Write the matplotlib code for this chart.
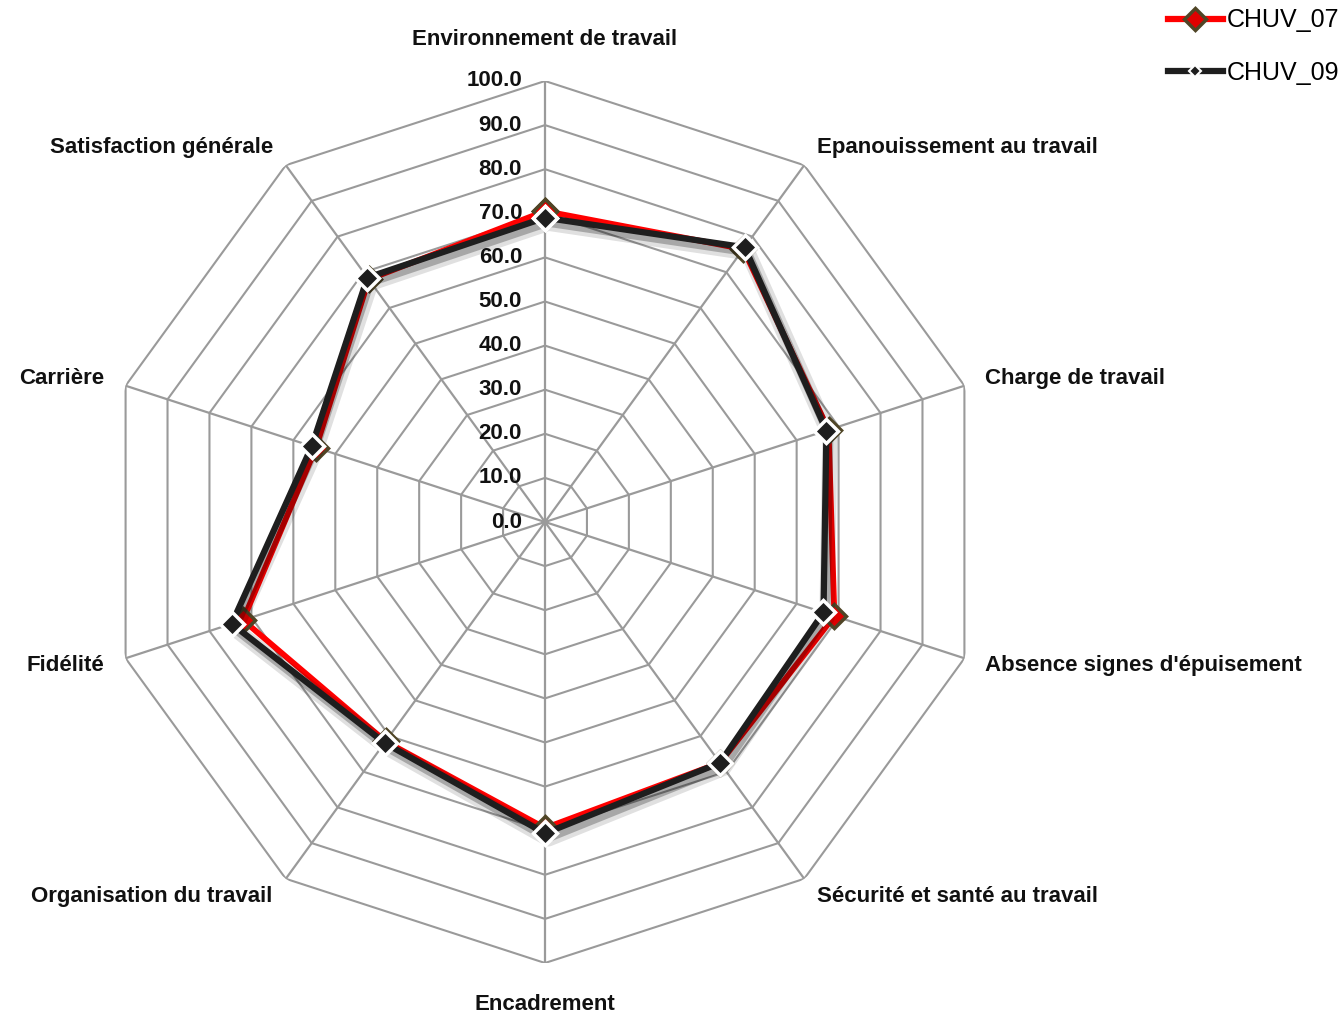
import numpy as np
import matplotlib
matplotlib.use("Agg")
import matplotlib.pyplot as plt
import matplotlib.patheffects as pe
from matplotlib.lines import Line2D

categories = [
    "Environnement de travail",
    "Epanouissement au travail",
    "Charge de travail",
    "Absence signes d'épuisement",
    "Sécurité et santé au travail",
    "Encadrement",
    "Organisation du travail",
    "Fidélité",
    "Carrière",
    "Satisfaction générale",
]
chuv_07 = [70.5, 76.5, 67.6, 69.0, 67.5, 69.4, 61.5, 72.0, 54.6, 68.0]
chuv_09 = [69.0, 77.0, 67.1, 66.4, 67.5, 70.6, 61.9, 74.7, 55.6, 68.5]
series_names = ["CHUV_07", "CHUV_09"]
ring_values = [0, 10, 20, 30, 40, 50, 60, 70, 80, 90, 100]
tick_labels = [f"{v:.1f}" for v in ring_values]

plt.rcParams["font.family"] = ["Liberation Sans Narrow", "Liberation Sans", "DejaVu Sans"]

W, H = 1344, 1016
fig = plt.figure(figsize=(W / 100, H / 100), dpi=100)

cx, cy, R = 545, 522, 441
ax = fig.add_axes([(cx - R) / W, 1 - (cy + R) / H, 2 * R / W, 2 * R / H],
                  projection="polar")
ax.set_theta_offset(np.pi / 2)
ax.set_theta_direction(-1)
ax.set_ylim(0, 100)
ax.grid(False)
ax.set_xticks([])
ax.set_yticks([])
ax.spines["polar"].set_visible(False)
ax.patch.set_visible(False)

n = len(categories)
angles = np.linspace(0, 2 * np.pi, n, endpoint=False)
closed = np.append(angles, angles[0])

grid_col = "#9a9a9a"
# polygonal rings
for v in ring_values[1:]:
    ax.plot(closed, [v] * (n + 1), color=grid_col, lw=1.5, zorder=1)
# spokes
for a in angles:
    ax.plot([a, a], [0, 100], color=grid_col, lw=1.6, zorder=1)

# radial value labels along the top spoke
for v, lab in zip(ring_values, tick_labels):
    ax.annotate(lab, xy=(0, v), xytext=(-16.5, 0), textcoords="offset points",
                ha="right", va="center", fontsize=16, fontweight="bold",
                color="#111111", zorder=5)

# category labels around the outer ring
lab_size = 16
for a, lab in zip(angles, categories):
    deg = np.degrees(a) % 360
    if np.isclose(deg, 0) or np.isclose(deg, 180):
        ax.text(a, 109.5, lab, ha="center", va="center", fontsize=lab_size,
                fontweight="bold", color="#111111")
    elif deg < 180:
        ax.text(a, 105, lab, ha="left", va="center", fontsize=lab_size,
                fontweight="bold", color="#111111")
    else:
        ax.text(a, 105, lab, ha="right", va="center", fontsize=lab_size,
                fontweight="bold", color="#111111")

v07 = np.append(chuv_07, chuv_07[0])
v09 = np.append(chuv_09, chuv_09[0])

shadow = [
    pe.SimpleLineShadow(offset=(2.5, -4), shadow_color="#000000", alpha=0.12, linewidth=11),
    pe.SimpleLineShadow(offset=(2, -3.5), shadow_color="#000000", alpha=0.25, linewidth=6),
    pe.Normal(),
]

ax.plot(closed, v07, color="#ff0000", lw=4.2, zorder=3,
        marker="D", markersize=12, markerfacecolor="#e00000",
        markeredgecolor="#4f4526", markeredgewidth=2.5)
ax.plot(closed, v09, color="#1e1e1e", lw=4.5, zorder=4,
        path_effects=shadow)
ax.plot(closed, v09, color="none", lw=0, zorder=5,
        marker="D", markersize=12, markerfacecolor="#1e1e1e",
        markeredgecolor="white", markeredgewidth=2.5)

handles = [
    Line2D([], [], color="#ff0000", lw=4.5, marker="D", markersize=11,
           markerfacecolor="#e00000", markeredgecolor="#4f4526", markeredgewidth=2.5),
    Line2D([], [], color="#1e1e1e", lw=4.5, marker="D", markersize=6,
           markerfacecolor="#1e1e1e", markeredgecolor="white", markeredgewidth=1.5),
]
fig.legend(handles, series_names, loc="upper right", bbox_to_anchor=(1.013, 1.014),
           frameon=False, handlelength=2.2, handletextpad=0.15, labelspacing=1.15,
           prop={"family": ["Liberation Sans", "DejaVu Sans"], "size": 18})

fig.savefig("out.png", dpi=100, facecolor="white")
